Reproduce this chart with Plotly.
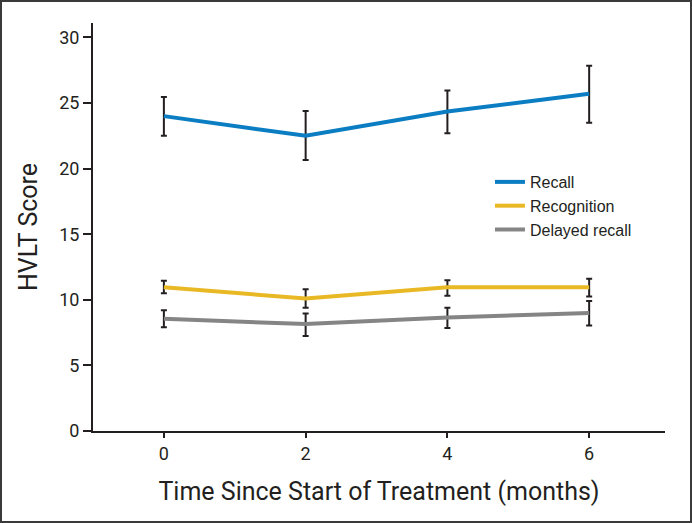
import plotly.graph_objects as go

months = [0, 2, 4, 6]

recall = [24.0, 22.5, 24.35, 25.7]
recall_hi = [25.45, 24.4, 25.95, 27.85]
recall_lo = [22.5, 20.65, 22.7, 23.5]

recognition = [10.95, 10.1, 10.95, 10.95]
recognition_hi = [11.45, 10.8, 11.5, 11.6]
recognition_lo = [10.5, 9.4, 10.3, 10.25]

delayed = [8.55, 8.15, 8.65, 9.0]
delayed_hi = [9.2, 8.95, 9.4, 9.9]
delayed_lo = [7.9, 7.25, 7.85, 8.05]

series = [
    ("Recall", recall, recall_hi, recall_lo, "#0b7dc2"),
    ("Recognition", recognition, recognition_hi, recognition_lo, "#e9b825"),
    ("Delayed recall", delayed, delayed_hi, delayed_lo, "#858585"),
]

ink = "#231f20"
cond = "Roboto, Liberation Sans, sans-serif"

fig = go.Figure()
for name, vals, hi, lo, col in series:
    fig.add_trace(go.Scatter(
        x=months, y=vals, name=name, mode="lines",
        line=dict(color=col, width=4),
        error_y=dict(
            type="data", symmetric=False,
            array=[h - v for h, v in zip(hi, vals)],
            arrayminus=[v - l for v, l in zip(vals, lo)],
            color=ink, thickness=2, width=3,
        ),
    ))

W, H = 692, 523
ml, mr, mt, mb = 93, 27, 23, 92
pw, ph = W - ml - mr, H - mt - mb

fig.update_layout(
    width=W, height=H,
    margin=dict(l=ml, r=mr, t=mt, b=mb, autoexpand=False),
    paper_bgcolor="white", plot_bgcolor="white",
    showlegend=True,
    legend=dict(
        x=0.694, y=0.652, xanchor="left", yanchor="top",
        font=dict(family="Liberation Sans, Arial, sans-serif", size=16, color=ink),
        bgcolor="rgba(0,0,0,0)", tracegroupgap=0, itemwidth=30,
    ),
    shapes=[dict(
        type="rect", xref="paper", yref="paper",
        x0=-(ml - 1) / pw, x1=1 + (mr - 1) / pw,
        y0=-(mb - 1) / ph, y1=1 + (mt - 1) / ph,
        line=dict(color="#3a3a3a", width=2),
    )],
)

fig.update_xaxes(
    range=[-1, 7.07], tickvals=months, showgrid=False, zeroline=False,
    showline=True, linecolor=ink, linewidth=2, automargin=False,
    ticks="outside", ticklen=5, tickwidth=1.5, tickcolor=ink,
    tickfont=dict(family=cond, size=18, color=ink),
    title=dict(text="Time Since Start of Treatment (months)",
               font=dict(family=cond, size=25, color=ink), standoff=20),
)
fig.update_yaxes(
    range=[0, 31.1], tickvals=[0, 5, 10, 15, 20, 25, 30], showgrid=False,
    zeroline=False, showline=True, linecolor=ink, linewidth=2, automargin=False,
    ticks="outside", ticklen=8, tickwidth=1.5, tickcolor=ink,
    tickfont=dict(family=cond, size=18, color=ink),
    title=dict(text="HVLT Score",
               font=dict(family=cond, size=25, color=ink), standoff=14),
)

# the page body has a default 8px margin; drop it so the figure sits at 0,0
fig.write_html("out.html", config={"displayModeBar": False},
               post_script="document.body.style.margin='0';")
